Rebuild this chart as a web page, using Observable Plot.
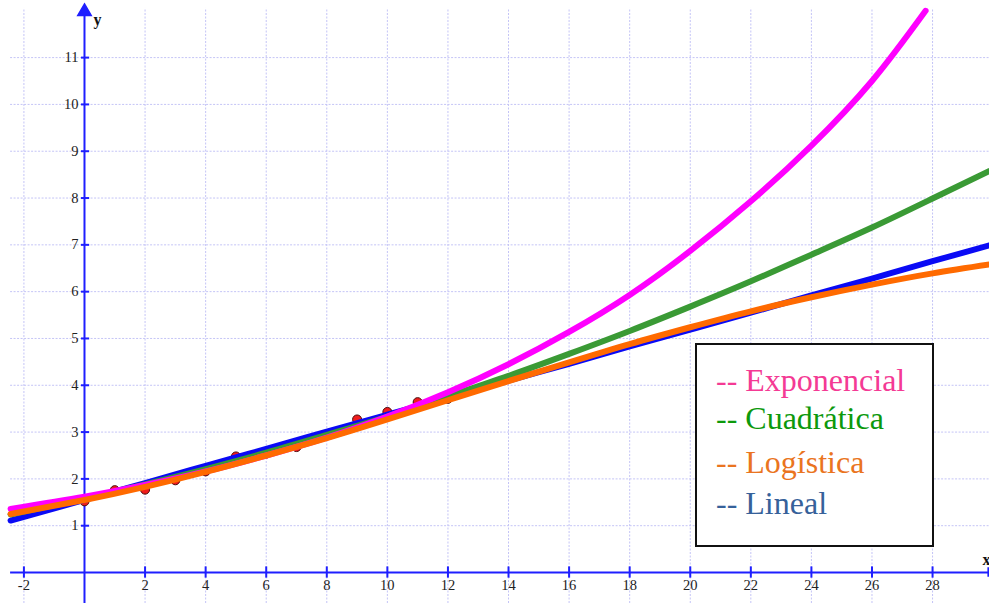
<!DOCTYPE html>
<html><head><meta charset="utf-8">
<script src="https://cdn.jsdelivr.net/npm/d3@7"></script>
<script src="https://cdn.jsdelivr.net/npm/@observablehq/plot@0.6"></script>
<style>
html,body{margin:0;padding:0;background:#fff;overflow:hidden}
#wrap{position:relative;width:989px;height:603px}
#legend{position:absolute;left:695px;top:343px;width:235px;height:200px;border:2px solid #111;background:#fff;box-sizing:content-box}
#legend div{position:absolute;left:19px;font-family:'Liberation Serif',serif;font-size:32px;line-height:32px;white-space:nowrap}
#chart svg text{font-family:'Liberation Serif',serif}
</style></head>
<body><div id="wrap"><div id="chart"></div>
<div id="legend"></div></div>
<script>
// Observed data points
const dataX = [0, 1, 2, 3, 4, 5, 6, 7, 9, 10, 11, 12];
const dataY = [1.52, 1.76, 1.77, 1.97, 2.16, 2.48, 2.54, 2.68, 3.27, 3.43, 3.64, 3.71];

// Curve readings
const curveX = [-2.44, 0, 2, 4, 6, 8, 10, 12, 14, 16, 18, 20, 22, 24, 26, 28, 29.88];
const quadY  = [1.24, 1.58, 1.88, 2.21, 2.56, 2.94, 3.33, 3.76, 4.20, 4.67, 5.16, 5.68, 6.22, 6.79, 7.37, 7.99, 8.58];
const logY   = [1.25, 1.55, 1.83, 2.15, 2.50, 2.87, 3.27, 3.68, 4.09, 4.49, 4.88, 5.24, 5.58, 5.88, 6.15, 6.39, 6.58];
const linY   = [1.11, 1.55, 1.91, 2.28, 2.64, 3.01, 3.37, 3.73, 4.10, 4.46, 4.83, 5.19, 5.55, 5.92, 6.28, 6.65, 6.99];
const expX   = [-2.44, 0, 2, 4, 6, 8, 10, 12, 14, 16, 18, 20, 22, 24, 26, 27.77];
const expY   = [1.36, 1.62, 1.87, 2.16, 2.50, 2.88, 3.33, 3.85, 4.45, 5.14, 5.93, 6.87, 7.93, 9.12, 10.50, 12.0];

const xTicks = [-2, 2, 4, 6, 8, 10, 12, 14, 16, 18, 20, 22, 24, 26, 28];
const yTicks = [1, 2, 3, 4, 5, 6, 7, 8, 9, 10, 11];
const xGrid = [-2, 2, 4, 6, 8, 10, 12, 14, 16, 18, 20, 22, 24, 26, 28];
const yGrid = [1, 2, 3, 4, 5, 6, 7, 8, 9, 10, 11];

const legendNames = ["-- Exponencial", "-- Cuadrática", "-- Logística", "-- Lineal"];
const legendColors = ["#f43a94", "#0c990c", "#ea7420", "#36619a"];

const X0 = -2.44, X1 = 29.88, Y0 = -0.662, Y1 = 12.05;
const serif = "'Liberation Serif', serif";
const axisColor = "#1f1fff";

const pts = dataX.map((x, i) => ({x, y: dataY[i]}));
const mk = (xs, ys) => xs.map((x, i) => ({x, y: ys[i]}));

const chart = Plot.plot({
  width: 989, height: 603,
  marginTop: 0, marginBottom: 0, marginLeft: 0, marginRight: 0,
  x: {domain: [-2.773, 29.88], axis: null},
  y: {domain: [-0.662, 12.22], axis: null},
  style: {background: "#fff", overflow: "hidden", fontFamily: serif},
  marks: [
    Plot.ruleX(xGrid, {y1: Y0, y2: Y1, stroke: "#c4c4f6", strokeWidth: 1, strokeDasharray: "2,1.5"}),
    Plot.ruleY(yGrid, {x1: X0, x2: X1, stroke: "#c4c4f6", strokeWidth: 1, strokeDasharray: "2,1.5"}),
    Plot.ruleY([0], {x1: X0, x2: X1 + 0.2, stroke: axisColor, strokeWidth: 2}),
    Plot.ruleX([0], {y1: Y0, y2: 12.0, stroke: axisColor, strokeWidth: 2}),
    Plot.dot([{x: 0, y: 11.98}], {x: "x", y: "y", symbol: "triangle", r: 5, fill: axisColor, stroke: axisColor}),
    Plot.ruleY(yTicks, {x1: -0.1, x2: 0.17, stroke: axisColor, strokeWidth: 2}),
    Plot.ruleX(xTicks, {y1: -0.12, y2: 0.12, stroke: axisColor, strokeWidth: 2}),
    Plot.ruleX([X1 - 0.02], {y1: -0.1, y2: 0.1, stroke: axisColor, strokeWidth: 3}),
    Plot.text(yTicks, {x: 0, y: d => d, text: d => String(d), dx: -6, textAnchor: "end", fontFamily: serif, fontSize: 14.5, fill: "#222"}),
    Plot.text(xTicks, {x: d => d, y: 0, text: d => String(d), dy: 13, fontFamily: serif, fontSize: 14.5, fill: "#222"}),
    Plot.text(["y"], {x: 0, y: 12.0, text: d => d, dx: 13, dy: 9, fontFamily: serif, fontSize: 16, fontWeight: "bold", fill: "#111"}),
    Plot.text(["x"], {x: X1, y: 0, text: d => d, dx: 1, dy: -13, textAnchor: "end", fontFamily: serif, fontSize: 16, fontWeight: "bold", fill: "#111"}),
    Plot.dot(pts, {x: "x", y: "y", r: 4.5, fill: "#f01c1c", stroke: "#4a0a0a", strokeWidth: 1}),
    Plot.line(mk(curveX, linY), {x: "x", y: "y", stroke: "#0a0af5", strokeWidth: 6, curve: "natural", clip: true}),
    Plot.line(mk(curveX, quadY), {x: "x", y: "y", stroke: "#3a9a35", strokeWidth: 6, curve: "natural", clip: true}),
    Plot.line(mk(expX, expY), {x: "x", y: "y", stroke: "#ff00ff", strokeWidth: 6, curve: "natural", clip: true}),
    Plot.line(mk(curveX, logY), {x: "x", y: "y", stroke: "#ff6a00", strokeWidth: 6, curve: "natural", clip: true})
  ]
});
document.getElementById("chart").appendChild(chart);

const leg = document.getElementById("legend");
const tops = [19, 57, 101, 142];
legendNames.forEach((n, i) => {
  const d = document.createElement("div");
  d.textContent = n;
  d.style.color = legendColors[i];
  d.style.top = tops[i] + "px";
  leg.appendChild(d);
});
</script></body></html>
